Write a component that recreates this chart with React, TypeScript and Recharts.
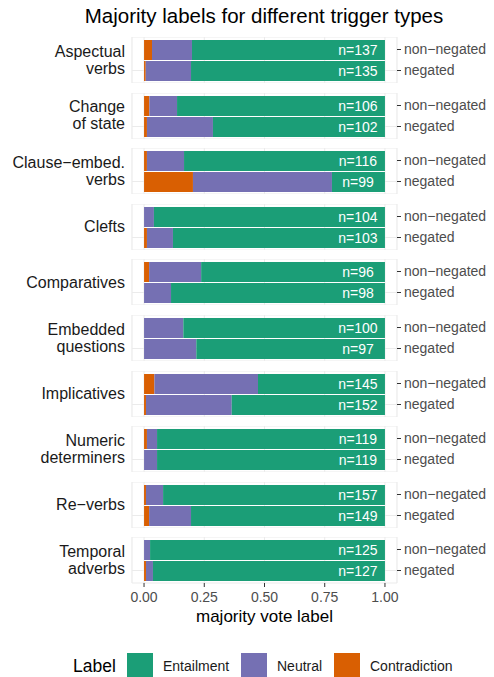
import React from "react"
import { BarChart, Bar, XAxis, YAxis, CartesianGrid, LabelList, Label } from "recharts"

// facets, top to bottom
const triggers = [
  "Aspectual\nverbs",
  "Change\nof state",
  "Clause−embed.\nverbs",
  "Clefts",
  "Comparatives",
  "Embedded\nquestions",
  "Implicatives",
  "Numeric\ndeterminers",
  "Re−verbs",
  "Temporal\nadverbs",
]
const polarities = ["non−negated", "negated"]

const nNonNegated = [137, 106, 116, 104, 96, 100, 145, 119, 157, 125]
const nNegated = [135, 102, 99, 103, 98, 97, 152, 119, 149, 127]

// proportions of majority vote labels
const contradictionNonNegated = [0.033, 0.022, 0.012, 0, 0.021, 0, 0.043, 0.012, 0.008, 0]
const neutralNonNegated = [0.166, 0.115, 0.154, 0.041, 0.216, 0.163, 0.43, 0.042, 0.071, 0.025]
const entailmentNonNegated = [0.801, 0.863, 0.834, 0.959, 0.763, 0.837, 0.527, 0.946, 0.921, 0.975]

const contradictionNegated = [0.007, 0.012, 0.203, 0.012, 0, 0, 0.008, 0, 0.021, 0.008]
const neutralNegated = [0.188, 0.274, 0.577, 0.108, 0.112, 0.217, 0.356, 0.054, 0.174, 0.029]
const entailmentNegated = [0.805, 0.714, 0.22, 0.88, 0.888, 0.783, 0.636, 0.946, 0.805, 0.963]

const majorTicks = [0, 0.25, 0.5, 0.75, 1]
const minorTicks = [0.125, 0.375, 0.625, 0.875]
const tickLabels = ["0.00", "0.25", "0.50", "0.75", "1.00"]

const legendLabels = ["Entailment", "Neutral", "Contradiction"]

const COLORS: Record<string, string> = {
  Entailment: "#1b9e77",
  Neutral: "#7570b3",
  Contradiction: "#d95f02",
}

const FONT = '"Liberation Sans", Arial, Helvetica, sans-serif'
const W = 494
const H = 677
const PANEL_TOP = 37
const PANEL_STEP = 55.6
const PANEL_H = 46
const PLOT_LEFT = 132
const AXIS_W = 97
const X_AXIS_H = 52

function NLabel(props: any) {
  const { x, y, width, height, value } = props
  return (
    <text
      x={x + width - 27}
      y={y + height / 2}
      dy="0.36em"
      textAnchor="middle"
      fill="#ffffff"
      fontSize={14}
      fontFamily={FONT}
    >
      n={value}
    </text>
  )
}

function Panel({ index }: { index: number }) {
  const last = index === triggers.length - 1
  const rows = [
    {
      polarity: polarities[0],
      Contradiction: contradictionNonNegated[index],
      Neutral: neutralNonNegated[index],
      Entailment: entailmentNonNegated[index],
      n: nNonNegated[index],
    },
    {
      polarity: polarities[1],
      Contradiction: contradictionNegated[index],
      Neutral: neutralNegated[index],
      Entailment: entailmentNegated[index],
      n: nNegated[index],
    },
  ]
  return (
    <div style={{ position: "absolute", left: 0, top: PANEL_TOP + index * PANEL_STEP }}>
      <BarChart
        width={W}
        height={PANEL_H + (last ? X_AXIS_H : 0)}
        data={rows}
        layout="vertical"
        margin={{ top: 0, right: 0, bottom: 0, left: PLOT_LEFT }}
        barSize={20}
      >
        <CartesianGrid xAxisId="minor" horizontal={false} stroke="#f2f2f2" strokeWidth={0.8} />
        <CartesianGrid stroke="#ebebeb" strokeWidth={1} />
        <XAxis type="number" xAxisId="minor" domain={[-0.05, 1.05]} ticks={minorTicks} hide />
        <XAxis
          type="number"
          domain={[-0.05, 1.05]}
          ticks={majorTicks}
          hide={!last}
          height={last ? X_AXIS_H : 0}
          axisLine={false}
          tickSize={4}
          tickMargin={5}
          tickLine={{ stroke: "#333333" }}
          tick={{ fill: "#4d4d4d", fontSize: 14, fontFamily: FONT }}
          tickFormatter={(_v: number, i: number) => tickLabels[i]}
        >
          {last && (
            <Label
              value="majority vote label"
              position="insideBottom"
              offset={13}
              fill="#000000"
              fontSize={17}
              fontFamily={FONT}
            />
          )}
        </XAxis>
        <YAxis
          type="category"
          dataKey="polarity"
          orientation="right"
          width={AXIS_W}
          padding={{ top: 2, bottom: 2 }}
          axisLine={false}
          tickSize={4}
          tickMargin={3}
          tickLine={{ stroke: "#333333" }}
          tick={{ fill: "#4d4d4d", fontSize: 14, fontFamily: FONT }}
        />
        <Bar dataKey="Contradiction" stackId="a" fill={COLORS.Contradiction} isAnimationActive={false} />
        <Bar dataKey="Neutral" stackId="a" fill={COLORS.Neutral} isAnimationActive={false} />
        <Bar dataKey="Entailment" stackId="a" fill={COLORS.Entailment} isAnimationActive={false}>
          <LabelList dataKey="n" content={NLabel} />
        </Bar>
      </BarChart>
    </div>
  )
}

export default function App() {
  const swatchX = [127, 241, 334]
  return (
    <div
      style={{
        position: "absolute",
        left: 0,
        top: 0,
        width: W,
        height: H,
        background: "#ffffff",
        overflow: "hidden",
        fontFamily: FONT,
      }}
    >
      {triggers.map((_, i) => (
        <Panel key={i} index={i} />
      ))}
      <svg
        width={W}
        height={H}
        style={{ position: "absolute", left: 0, top: 0, pointerEvents: "none" }}
        fontFamily={FONT}
      >
        <text x={264} y={23} textAnchor="middle" fontSize={20.5} fill="#000000">
          Majority labels for different trigger types
        </text>
        {triggers.map((t, i) => {
          const lines = t.split("\n")
          const cy = PANEL_TOP + i * PANEL_STEP + PANEL_H / 2
          return (
            <text key={i} textAnchor="end" fontSize={16} fill="#1a1a1a">
              {lines.map((line, j) => (
                <tspan key={j} x={125} y={cy + 5.3 + (j - (lines.length - 1) / 2) * 17}>
                  {line}
                </tspan>
              ))}
            </text>
          )
        })}
        <text x={73} y={672} fontSize={17.5} fill="#000000">
          Label
        </text>
        {legendLabels.map((name, i) => (
          <g key={name}>
            <rect x={swatchX[i]} y={653} width={26} height={26} fill={COLORS[name]} />
            <text x={swatchX[i] + 36} y={671} fontSize={14} fill="#1a1a1a">
              {name}
            </text>
          </g>
        ))}
      </svg>
    </div>
  )
}
